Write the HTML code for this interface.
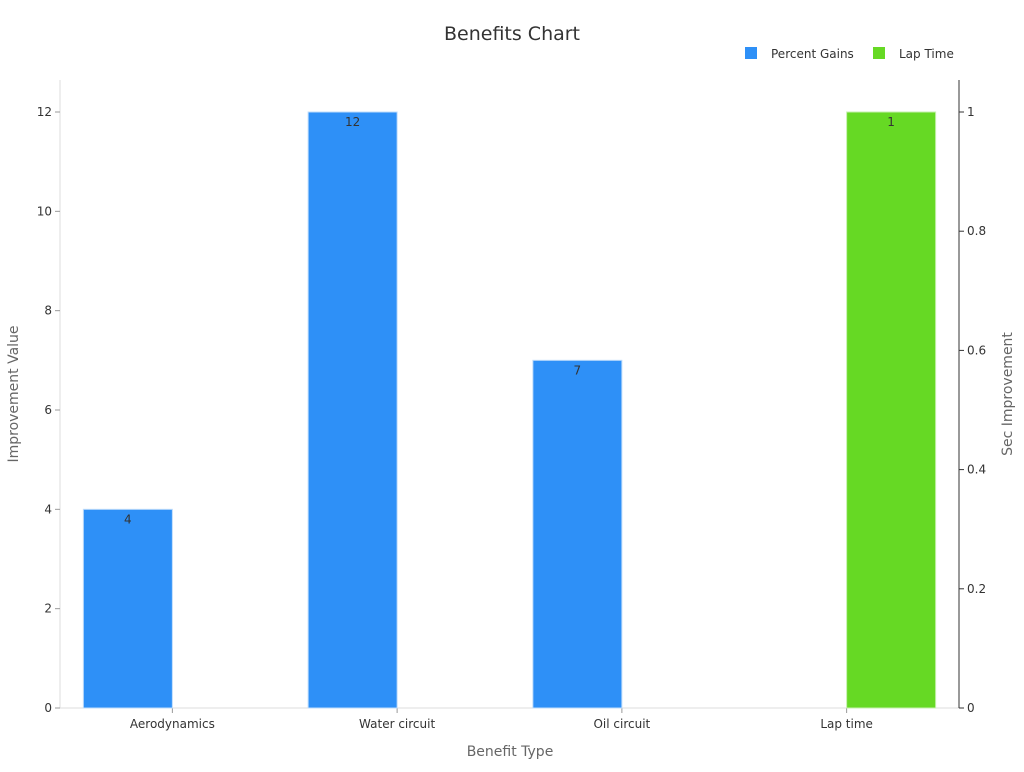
<!DOCTYPE html>
<html><head><meta charset="utf-8"><style>
body{margin:0;background:#fff;font-family:"DejaVu Sans","Liberation Sans",sans-serif;}
svg text{font-family:"DejaVu Sans","Liberation Sans",sans-serif;}
</style></head><body>
<svg id="c" width="1024" height="768" xmlns="http://www.w3.org/2000/svg">
<text x="512" y="40" text-anchor="middle" font-size="19" fill="#333">Benefits Chart</text>
<g>
<rect x="745" y="47" width="12" height="12" fill="#2e90f7"/>
<text x="771" y="58" font-size="12" fill="#333">Percent Gains</text>
<rect x="873" y="47" width="12" height="12" fill="#66d924"/>
<text x="899" y="58" font-size="12" fill="#333">Lap Time</text>
</g>
<text transform="translate(18,394) rotate(-90)" text-anchor="middle" font-size="14" fill="#666">Improvement Value</text>
<text transform="translate(1012,394) rotate(-90)" text-anchor="middle" font-size="14" fill="#666">Sec Improvement</text>
<text x="510" y="756" text-anchor="middle" font-size="14" fill="#666">Benefit Type</text>
<g id="plot"></g>
</svg>
<script>
const categories = ["Aerodynamics","Water circuit","Oil circuit","Lap time"];
const percentGains = [4,12,7,null];
const lapTime = [null,null,null,1];
const leftTicks = [0,2,4,6,8,10,12];
const rightTicks = [0,0.2,0.4,0.6,0.8,1];
const NS="http://www.w3.org/2000/svg";
const g=document.getElementById('plot');
const X0=60,X1=959,Y0=708,Y12=112;
const yL=v=>Y0-(Y0-Y12)*v/12;
const yR=v=>Y0-(Y0-Y12)*v/1;
const band=(X1-X0)/categories.length;
const xc=i=>X0+(i+0.5)*band;
const bw=89;
function el(t,a,txt){const e=document.createElementNS(NS,t);for(const k in a)e.setAttribute(k,a[k]);if(txt!=null)e.textContent=txt;g.appendChild(e);return e;}
let e;
e=el('line',{x1:X0,y1:80,x2:X0,y2:Y0,stroke:'#ddd'});


e=el('line',{x1:X0,y1:Y0,x2:X1,y2:Y0,stroke:'#ddd'});


e=el('line',{x1:X1,y1:80,x2:X1,y2:Y0,stroke:'#333'});


leftTicks.forEach(v=>{
 el('line',{x1:X0-5,y1:yL(v),x2:X0,y2:yL(v),stroke:'#999'});
 e=el('text',{x:X0-8,y:yL(v)+4,'text-anchor':'end','font-size':12,fill:'#333'},String(v));
 
 
});
rightTicks.forEach(v=>{
 el('line',{x1:X1,y1:yR(v),x2:X1+5,y2:yR(v),stroke:'#333'});
 e=el('text',{x:X1+8,y:yR(v)+4,'font-size':12,fill:'#333'},String(v));
 
 
});
categories.forEach((c,i)=>{
 el('line',{x1:xc(i),y1:Y0,x2:xc(i),y2:Y0+5,stroke:'#999'});
 e=el('text',{x:xc(i),y:Y0+20,'text-anchor':'middle','font-size':12,fill:'#333'},c);
 
 
 if(percentGains[i]!=null){
  const y=yL(percentGains[i]);
  e=el('rect',{x:xc(i)-bw,y:y,width:bw,height:Y0-y,fill:'#2e90f7',stroke:'#bfdcfb','stroke-width':1});
  
  
  e=el('text',{x:xc(i)-bw/2,y:y+14,'text-anchor':'middle','font-size':12,fill:'#333'},String(percentGains[i]));
  
  
 }
 if(lapTime[i]!=null){
  const y=yR(lapTime[i]);
  e=el('rect',{x:xc(i),y:y,width:bw,height:Y0-y,fill:'#66d924',stroke:'#c6f0ae','stroke-width':1});
  
  
  e=el('text',{x:xc(i)+bw/2,y:y+14,'text-anchor':'middle','font-size':12,fill:'#333'},String(lapTime[i]));
  
  
 }
});
</script>
</body></html>
